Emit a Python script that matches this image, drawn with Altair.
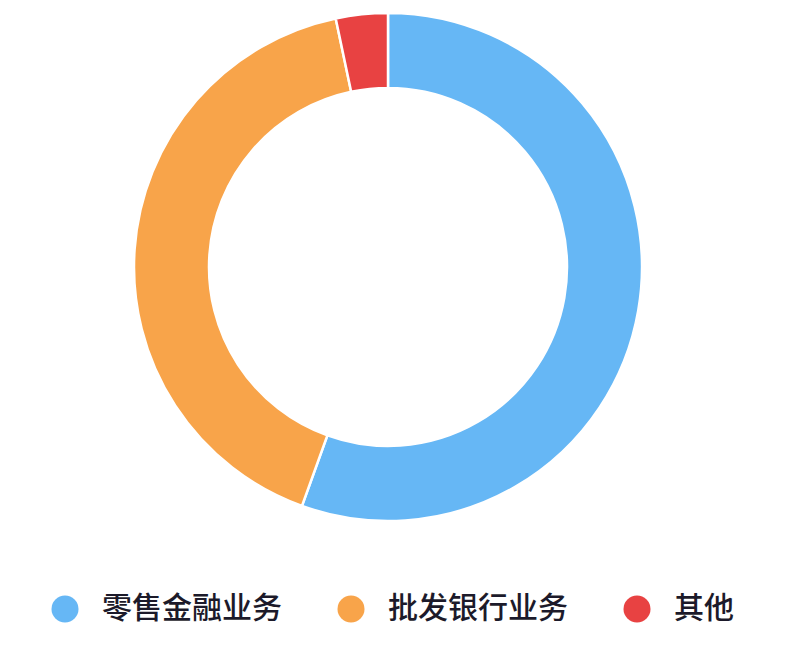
import altair as alt
import pandas as pd

categories = ["零售金融业务", "批发银行业务", "其他"]
values = [55.5, 41.2, 3.3]
colors = ["#66B7F5", "#F8A44A", "#E84242"]

df = pd.DataFrame({"name": categories, "value": values, "order": [0, 1, 2]})

chart = alt.Chart(df).mark_arc(
    outerRadius=254, innerRadius=179, stroke="white", strokeWidth=2.5
).encode(
    theta=alt.Theta("value:Q", stack=True),
    order=alt.Order("order:Q"),
    color=alt.Color(
        "name:N",
        scale=alt.Scale(domain=categories, range=colors),
        legend=alt.Legend(
            title=None,
            orient="none",
            direction="horizontal",
            legendX=42,
            legendY=586,
            symbolType="circle",
            symbolSize=729,
            symbolStrokeWidth=0,
            symbolOpacity=1,
            labelFont="Noto Sans CJK SC",
            labelFontSize=30,
            labelFontWeight=500,
            labelLimit=400,
            labelColor="#1c1a2a",
            labelOffset=22,
            columnPadding=54,
        ),
    ),
).properties(
    width=760, height=518,
    padding={"left": 0, "top": 0, "right": 0, "bottom": 12},
).configure_view(stroke=None)

chart.save("out.html", embed_options={"renderer": "svg", "actions": False})
